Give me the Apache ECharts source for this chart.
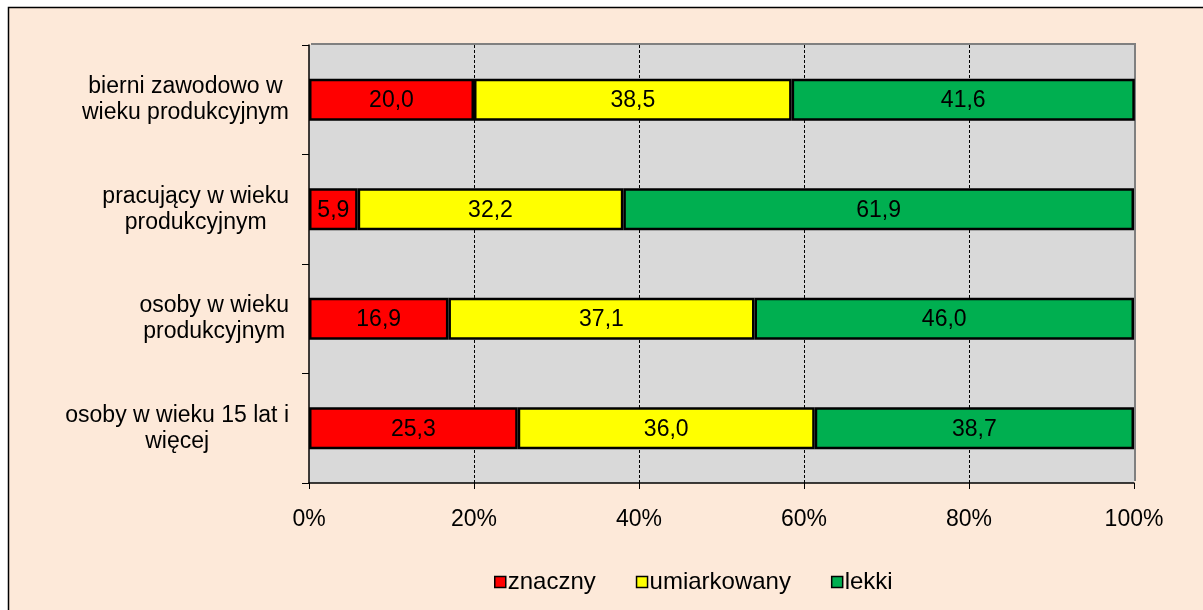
<!DOCTYPE html>
<html>
<head>
<meta charset="utf-8">
<script src="https://cdn.jsdelivr.net/npm/echarts@6/dist/echarts.min.js"></script>
<style>
  html, body { margin: 0; padding: 0; background: #fff; }
  #chart { width: 1203px; height: 610px; }
</style>
</head>
<body>
<div id="chart"></div>
<script>
var categories = [
    'bierni zawodowo w\nwieku produkcyjnym',
    'pracujący w wieku\nprodukcyjnym',
    'osoby w wieku\nprodukcyjnym',
    'osoby w wieku 15 lat i\nwięcej'
];
var seriesNames = ['znaczny', 'umiarkowany', 'lekki'];
var znaczny = [20.0, 5.9, 16.9, 25.3];
var umiarkowany = [38.5, 32.2, 37.1, 36.0];
var lekki = [41.6, 61.9, 46.0, 38.7];
var colors = ['#FF0000', '#FFFF00', '#00AF50'];

var font = 'Liberation Sans, Arial, sans-serif';

function makeSeries(name, data, color) {
    return {
        name: name,
        type: 'bar',
        stack: 'total',
        barWidth: 42,
        data: data,
        itemStyle: { color: color, borderColor: '#000', borderWidth: 2.5 },
        label: {
            show: true,
            position: 'inside',
            color: '#000',
            fontFamily: font,
            fontSize: 23,
            offset: [0, 1],
            formatter: function (p) {
                return p.value.toFixed(1).replace('.', ',');
            }
        }
    };
}

var chart = echarts.init(document.getElementById('chart'));
var option = {
    backgroundColor: '#fff',
    animation: false,
    graphic: [{
        type: 'rect',
        z: -10,
        shape: { x: 8.5, y: 7.5, width: 1300, height: 700 },
        style: { fill: '#FDE9D9', stroke: '#000', lineWidth: 1.5 }
    }],
    grid: {
        left: 309, right: 69, top: 45, bottom: 127,
        show: true,
        backgroundColor: '#D9D9D9',
        borderWidth: 0,
        shadowColor: '#808080',
        shadowBlur: 0,
        shadowOffsetX: 2,
        shadowOffsetY: -2
    },
    legend: {
        left: 489,
        top: 565,
        itemWidth: 11,
        itemHeight: 11,
        itemGap: 40,
        icon: 'rect',
        data: seriesNames,
        itemStyle: { borderColor: '#000', borderWidth: 1.5 },
        textStyle: { fontFamily: font, fontSize: 24, color: '#000', padding: [0, 0, 0, -3] }
    },
    xAxis: {
        type: 'value',
        min: 0,
        max: 100,
        interval: 20,
        axisLine: { show: true, lineStyle: { color: '#000', width: 1.5 } },
        axisTick: { show: true, inside: false, length: 6, lineStyle: { color: '#000' } },
        axisLabel: {
            margin: 25,
            color: '#000',
            fontFamily: font,
            fontSize: 23,
            formatter: '{value}%'
        },
        splitLine: {
            show: true,
            showMinLine: false,
            showMaxLine: false,
            lineStyle: { color: '#000', type: [3, 2], width: 1 }
        }
    },
    yAxis: {
        type: 'category',
        inverse: true,
        data: categories,
        axisLine: { show: true, lineStyle: { color: '#000', width: 1.5 } },
        axisTick: { show: true, inside: false, length: 7, lineStyle: { color: '#000' } },
        axisLabel: {
            margin: 20,
            align: 'right',
            color: '#000',
            fontFamily: font,
            fontSize: 23,
            lineHeight: 26,
            formatter: function (v) {
                return v.split('\n').map(function (s) { return '{c|' + s + '}'; }).join('\n');
            },
            rich: {
                c: { align: 'center', fontFamily: font, fontSize: 23, lineHeight: 26, color: '#000' }
            }
        },
        splitLine: { show: false }
    },
    series: [
        makeSeries(seriesNames[0], znaczny, colors[0]),
        makeSeries(seriesNames[1], umiarkowany, colors[1]),
        makeSeries(seriesNames[2], lekki, colors[2])
    ]
};
chart.setOption(option);
</script>
</body>
</html>
